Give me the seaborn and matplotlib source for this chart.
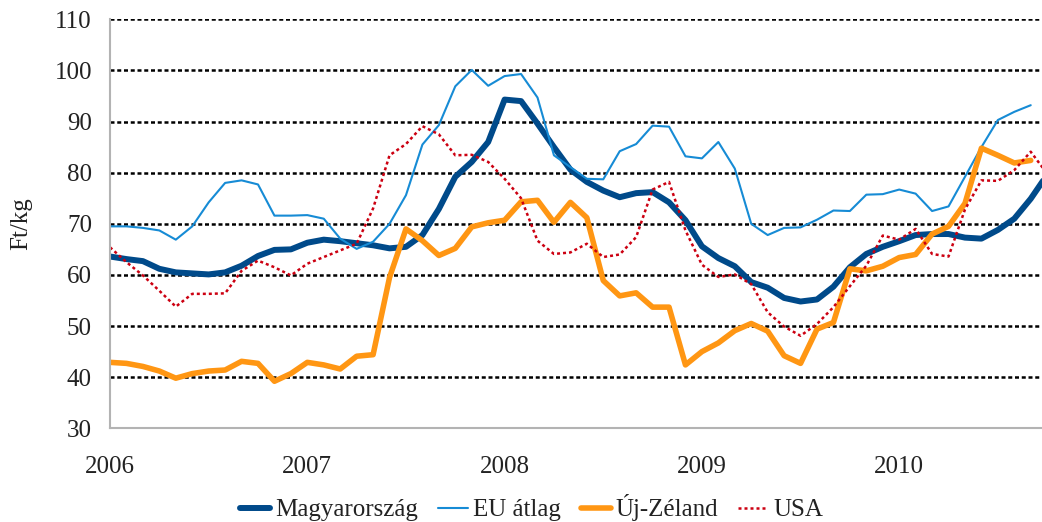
import numpy as np
import pandas as pd
import matplotlib
matplotlib.use("Agg")
import matplotlib.pyplot as plt
import seaborn as sns

# havi árak (Ft/kg), 2006 január -tól
magyarorszag = [63.6, 63.1, 62.7, 61.2, 60.5, 60.3, 60.1, 60.5, 61.8, 63.7,
                64.9, 65.0, 66.3, 66.9, 66.6, 66.2, 65.8, 65.2, 65.5, 67.8,
                72.9, 79.2, 82.1, 86.0, 94.3, 94.0, 89.6, 85.0, 80.6, 78.2,
                76.5, 75.2, 76.0, 76.2, 74.2, 70.7, 65.6, 63.3, 61.7, 58.6,
                57.5, 55.5, 54.8, 55.2, 57.7, 61.5, 64.1, 65.5, 66.6, 67.8,
                68.0, 68.0, 67.3, 67.1, 68.8, 71.0, 74.9, 79.6]
eu_atlag = [69.5, 69.5, 69.2, 68.7, 66.9, 69.5, 74.2, 78.0, 78.5, 77.7,
            71.6, 71.6, 71.7, 71.0, 67.1, 65.1, 66.5, 70.0, 75.6, 85.5,
            89.3, 96.9, 100.1, 97.0, 98.9, 99.3, 94.7, 83.4, 81.1, 78.8,
            78.7, 84.2, 85.6, 89.2, 89.0, 83.2, 82.8, 86.0, 80.8, 70.0,
            67.8, 69.2, 69.3, 70.8, 72.6, 72.5, 75.7, 75.8, 76.7, 75.9,
            72.5, 73.4, 79.2, 85.0, 90.3, 91.9, 93.2]
uj_zeland = [42.9, 42.7, 42.1, 41.2, 39.8, 40.7, 41.2, 41.4, 43.1, 42.7,
             39.2, 40.7, 42.9, 42.4, 41.6, 44.1, 44.4, 59.5, 69.0, 66.7,
             63.8, 65.2, 69.4, 70.2, 70.7, 74.3, 74.6, 70.3, 74.2, 71.2,
             58.9, 55.9, 56.5, 53.7, 53.7, 42.4, 45.0, 46.7, 49.1, 50.5,
             49.0, 44.2, 42.7, 49.4, 50.7, 61.2, 60.8, 61.7, 63.4, 64.0,
             68.0, 69.5, 74.0, 84.8, 83.4, 81.9, 82.4]
usa = [65.4, 62.5, 59.9, 56.9, 53.8, 56.3, 56.3, 56.4, 60.8, 62.8,
       61.5, 59.9, 62.2, 63.5, 64.8, 66.1, 73.0, 83.4, 85.6, 89.1,
       87.5, 83.4, 83.5, 82.1, 78.8, 75.0, 66.7, 64.1, 64.4, 66.1,
       63.5, 64.0, 67.4, 76.7, 78.2, 68.7, 62.0, 59.6, 60.1, 58.2,
       52.7, 49.9, 48.1, 50.4, 53.7, 57.8, 61.8, 67.7, 66.9, 69.0,
       64.1, 63.6, 72.8, 78.5, 78.4, 80.5, 84.1, 79.8]

years = [2006, 2007, 2008, 2009, 2010]


def to_frame(vals):
    return pd.DataFrame({'ev': 2006 + np.arange(len(vals)) / 12, 'ar': vals})


sns.set_style('white')
plt.rcParams['font.family'] = ['Liberation Serif', 'DejaVu Serif']
FS = 18

fig = plt.figure(figsize=(10.42, 5.22), dpi=100)
ax = fig.add_axes([0.1056, 0.1795, 0.8944, 0.7835])

series = [
    ('Magyarország', magyarorszag, '#004A8A', 4.3, '-'),
    ('EU átlag', eu_atlag, '#168BD5', 1.5, '-'),
    ('Új-Zéland', uj_zeland, '#FF9613', 4.0, '-'),
    ('USA', usa, '#CC0011', 1.8, (0, (1.2, 1.2))),
]
for name, vals, color, lw, ls in series:
    sns.lineplot(data=to_frame(vals), x='ev', y='ar', ax=ax, color=color,
                 linewidth=lw, label=name, legend=False)
    ax.lines[-1].set_linestyle(ls)

ax.set_xlim(2006, 2006 + 932 / 197.3)
ax.set_ylim(30, 110)
ax.set_xticks(years)
ax.set_xticklabels([str(y) for y in years])
ax.set_yticks(range(30, 111, 10))

ax.yaxis.grid(True, color='black', linewidth=1.8, linestyle=(0, (1.6, 1.1)))
ax.xaxis.grid(False)
sns.despine(ax=ax)
for side in ['left', 'bottom']:
    ax.spines[side].set_color('#B3B3B3')
    ax.spines[side].set_linewidth(1.5)

ax.tick_params(axis='both', direction='out', length=7, width=1.5,
               color='#B3B3B3', labelsize=FS, labelcolor='#222222')
ax.tick_params(axis='x', pad=13)
ax.tick_params(axis='y', pad=6)

ax.set_xlabel('')
ax.set_ylabel('Ft/kg', fontsize=FS, color='#222222')
ax.yaxis.set_label_coords(-0.083, 0.5)

handles, labels = ax.get_legend_handles_labels()
fig.legend(handles, labels, loc='center', bbox_to_anchor=(0.51, 0.027),
           ncol=4, frameon=False, fontsize=FS, handlelength=1.2,
           handletextpad=0.2, columnspacing=0.8, labelcolor='#222222')

fig.savefig('out.png', dpi=100)
